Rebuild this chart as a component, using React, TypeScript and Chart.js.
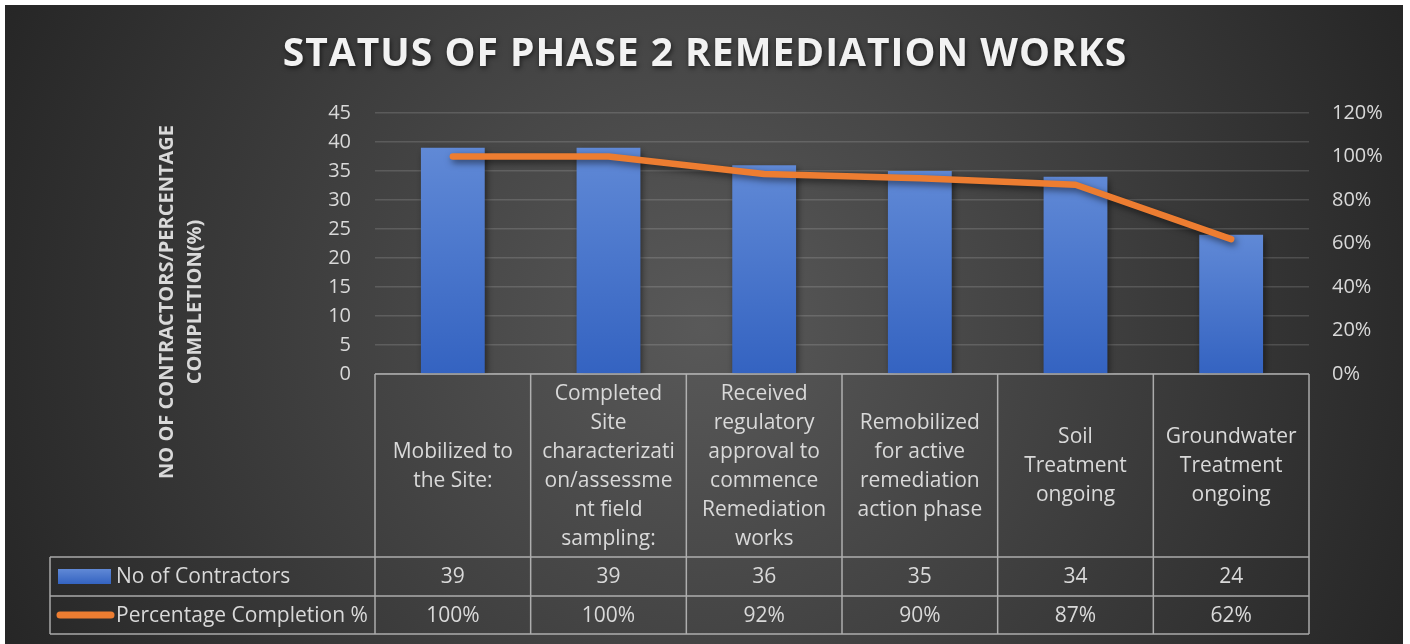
import React, { useEffect, useRef } from 'react';
import { Chart, registerables } from 'chart.js';

Chart.register(...registerables);

const TITLE = 'STATUS OF PHASE 2 REMEDIATION WORKS';
const Y_TITLE = ['NO OF CONTRACTORS/PERCENTAGE', 'COMPLETION(%)'];
const CATEGORIES: string[][] = [
  ['Mobilized to', 'the Site:'],
  ['Completed', 'Site', 'characterizati', 'on/assessme', 'nt field', 'sampling:'],
  ['Received', 'regulatory', 'approval to', 'commence', 'Remediation', 'works'],
  ['Remobilized', 'for active', 'remediation', 'action phase'],
  ['Soil', 'Treatment', 'ongoing'],
  ['Groundwater', 'Treatment', 'ongoing'],
];
const SERIES_NAMES = ['No of Contractors', 'Percentage Completion %'];
const CONTRACTORS = [39, 39, 36, 35, 34, 24];
const COMPLETION = [100, 100, 92, 90, 87, 62];
const LEFT_MAX = 45;
const LEFT_STEP = 5;
const RIGHT_MAX = 120;
const RIGHT_STEP = 20;

const FONT = '"Open Sans", "DejaVu Sans", sans-serif';
const TEXT = '#d9d9d9';
const BORDER = 'rgba(200,200,200,0.8)';
const BLUE_TOP = '#6089d6';
const BLUE_BOTTOM = '#3463c1';
const ORANGE = '#ed7d31';

const W = 1398;
const H = 639;

const backgroundPlugin = {
  id: 'bg',
  beforeDraw(chart: any) {
    const ctx = chart.ctx;
    ctx.save();
    const g = ctx.createRadialGradient(699, 320, 0, 699, 320, 770);
    g.addColorStop(0, '#595959');
    g.addColorStop(1, '#262626');
    ctx.fillStyle = g;
    ctx.fillRect(0, 0, chart.width, chart.height);
    ctx.restore();
  },
};

const shadowPlugin = {
  id: 'shadows',
  beforeDatasetDraw(chart: any) {
    const ctx = chart.ctx;
    ctx.save();
    ctx.shadowColor = 'rgba(0,0,0,0.55)';
    ctx.shadowBlur = 7;
    ctx.shadowOffsetX = 2;
    ctx.shadowOffsetY = 3;
  },
  afterDatasetDraw(chart: any) {
    chart.ctx.restore();
  },
};

const textPlugin = {
  id: 'texts',
  afterDraw(chart: any) {
    const ctx = chart.ctx;
    const area = chart.chartArea;
    const x = chart.scales.x;

    // Title
    ctx.save();
    ctx.font = `bold 39px ${FONT}`;
    ctx.fillStyle = '#f2f2f2';
    ctx.textAlign = 'center';
    ctx.textBaseline = 'middle';
    try { (ctx as any).letterSpacing = '1px'; } catch (e) {}
    ctx.shadowColor = 'rgba(0,0,0,0.6)';
    ctx.shadowBlur = 5;
    ctx.shadowOffsetX = 1;
    ctx.shadowOffsetY = 2;
    ctx.fillText(TITLE, chart.width / 2 + 1, 50);
    ctx.restore();

    // Y axis title
    ctx.save();
    ctx.translate(162.5, 297);
    ctx.rotate(-Math.PI / 2);
    ctx.font = `bold 20px ${FONT}`;
    ctx.fillStyle = TEXT;
    ctx.textAlign = 'center';
    ctx.textBaseline = 'middle';
    Y_TITLE.forEach((line, i) => ctx.fillText(line, 0, i * 28));
    ctx.restore();

    // Data table
    const top = area.bottom;
    const headBottom = top + 183;
    const r1 = headBottom + 39;
    const r2 = r1 + 38;
    const legendLeft = 45;
    const colW = (area.right - area.left) / CATEGORIES.length;

    ctx.save();
    ctx.strokeStyle = BORDER;
    ctx.lineWidth = 1.5;
    ctx.beginPath();
    ctx.moveTo(area.left, top); ctx.lineTo(area.right, top);
    [headBottom, r1, r2].forEach((yy) => { ctx.moveTo(legendLeft, yy); ctx.lineTo(area.right, yy); });
    ctx.moveTo(legendLeft, headBottom); ctx.lineTo(legendLeft, r2);
    for (let i = 0; i <= CATEGORIES.length; i++) {
      const xx = area.left + i * colW;
      ctx.moveTo(xx, top); ctx.lineTo(xx, r2);
    }
    ctx.stroke();

    ctx.fillStyle = TEXT;
    ctx.textAlign = 'center';
    ctx.textBaseline = 'middle';
    ctx.font = `21px ${FONT}`;
    const lh = 29;
    const headMid = (top + headBottom) / 2 + 1;
    CATEGORIES.forEach((lines, i) => {
      const cx = x.getPixelForValue(i);
      const start = headMid - ((lines.length - 1) * lh) / 2;
      lines.forEach((ln, j) => ctx.fillText(ln, cx, start + j * lh));
      ctx.fillText(String(CONTRACTORS[i]), cx, (headBottom + r1) / 2 + 1);
      ctx.fillText(COMPLETION[i] + '%', cx, (r1 + r2) / 2 + 1);
    });

    // legend keys
    const m1 = (headBottom + r1) / 2;
    const m2 = (r1 + r2) / 2;
    const g = ctx.createLinearGradient(0, m1 - 7.5, 0, m1 + 7.5);
    g.addColorStop(0, BLUE_TOP);
    g.addColorStop(1, BLUE_BOTTOM);
    ctx.fillStyle = g;
    ctx.fillRect(53, m1 - 7.5, 53, 15);
    ctx.strokeStyle = ORANGE;
    ctx.lineWidth = 7;
    ctx.lineCap = 'round';
    ctx.beginPath();
    ctx.moveTo(55, m2);
    ctx.lineTo(106, m2);
    ctx.stroke();

    ctx.fillStyle = TEXT;
    ctx.textAlign = 'left';
    ctx.fillText(SERIES_NAMES[0], 111, m1 + 1);
    ctx.fillText(SERIES_NAMES[1], 111, m2 + 1);
    ctx.restore();
  },
};

export default function App() {
  const ref = useRef<HTMLCanvasElement | null>(null);

  useEffect(() => {
    document.body.style.margin = '0';
    if (!ref.current) return;
    const chart = new Chart(ref.current, {
      type: 'bar',
      data: {
        labels: CATEGORIES,
        datasets: [
          {
            type: 'line',
            label: SERIES_NAMES[1],
            data: COMPLETION,
            yAxisID: 'y1',
            borderColor: ORANGE,
            backgroundColor: ORANGE,
            borderWidth: 6.5,
            borderCapStyle: 'round',
            borderJoinStyle: 'round',
            pointRadius: 0,
            tension: 0,
            order: 0,
          } as any,
          {
            type: 'bar',
            label: SERIES_NAMES[0],
            data: CONTRACTORS,
            yAxisID: 'y',
            backgroundColor: (c: any) => {
              const ch = c.chart;
              const area = ch.chartArea;
              if (!area || c.type !== 'data') return BLUE_TOP;
              const yTop = ch.scales.y.getPixelForValue(c.raw);
              const g = ch.ctx.createLinearGradient(0, yTop, 0, area.bottom);
              g.addColorStop(0, BLUE_TOP);
              g.addColorStop(1, BLUE_BOTTOM);
              return g;
            },
            borderWidth: 0,
            categoryPercentage: 1,
            barPercentage: 0.41,
            order: 1,
          } as any,
        ],
      },
      options: {
        responsive: false,
        animation: false,
        layout: { padding: { top: 108, bottom: H - 369, left: 0, right: 0 } },
        plugins: {
          legend: { display: false },
          tooltip: { enabled: false },
          title: { display: false },
        },
        scales: {
          x: { display: false, offset: true },
          y: {
            position: 'left',
            min: 0,
            max: LEFT_MAX,
            border: { display: false },
            grid: { color: 'rgba(255,255,255,0.14)', lineWidth: 1.5, drawTicks: false },
            ticks: { stepSize: LEFT_STEP, color: TEXT, padding: 24, font: { family: FONT, size: 20 } },
            afterFit: (s: any) => { s.width = 370; },
          },
          y1: {
            position: 'right',
            min: 0,
            max: RIGHT_MAX,
            border: { display: false },
            grid: { display: false, drawTicks: false },
            ticks: {
              stepSize: RIGHT_STEP,
              color: TEXT,
              padding: 23,
              font: { family: FONT, size: 20 },
              callback: (v: any) => v + '%',
            },
            afterFit: (s: any) => { s.width = W - 1304; },
          },
        },
      },
      plugins: [backgroundPlugin, shadowPlugin, textPlugin],
    });
    return () => chart.destroy();
  }, []);

  return (
    <div style={{ padding: '5px 0 0 5px', background: '#fff', width: W, height: H }}>
      <canvas ref={ref} width={W} height={H} style={{ display: 'block', width: W, height: H }} />
    </div>
  );
}
